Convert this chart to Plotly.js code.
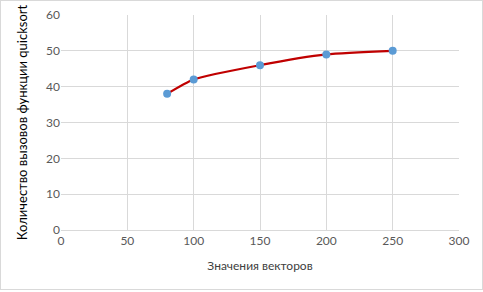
<!DOCTYPE html>
<html><head><meta charset="utf-8">
<script src="https://cdn.plot.ly/plotly-3.0.1.min.js"></script>
<style>html,body{margin:0;padding:0;background:#fff}#c{width:481px;height:288px;border:1px solid #d9d9d9;}</style>
</head><body><div id="c"></div>
<script>
const xValues = [80, 100, 150, 200, 250];
const yValues = [38, 42, 46, 49, 50];
const xTitle = "Значения векторов";
const yTitle = "Количество вызовов функции quicksort";

const trace = {
  x: xValues, y: yValues, type: 'scatter', mode: 'lines+markers',
  line: {color: '#C00000', width: 2.25, shape: 'spline', smoothing: 0.6},
  marker: {color: '#5B9BD5', size: 8},
  hoverinfo: 'none'
};
const font = {family: 'Lato, "Open Sans", sans-serif', size: 12, color: '#595959'};
const layout = {
  width: 481, height: 288,
  margin: {l: 60, r: 23, t: 14, b: 59, pad: 0},
  paper_bgcolor: '#fff', plot_bgcolor: '#fff',
  showlegend: false,
  font: font,
  xaxis: {range: [0, 300], dtick: 50, tick0: 0, showgrid: true, gridcolor: '#d9d9d9', gridwidth: 1,
    zeroline: false, showline: true, linecolor: '#d9d9d9', linewidth: 1, ticks: '', ticklen: 0,
    tickfont: font, title: {text: xTitle, font: {family: font.family, size: 12, color: '#404040'}, standoff: 14}},
  yaxis: {range: [0, 60], dtick: 10, tick0: 0, showgrid: true, gridcolor: '#d9d9d9', gridwidth: 1,
    zeroline: false, showline: false, ticks: '', tickfont: font,
    title: {text: yTitle, font: {family: font.family, size: 13, color: '#000'}, standoff: 15}}
};
Plotly.newPlot('c', [trace], layout, {displayModeBar: false, staticPlot: true});
</script></body></html>
